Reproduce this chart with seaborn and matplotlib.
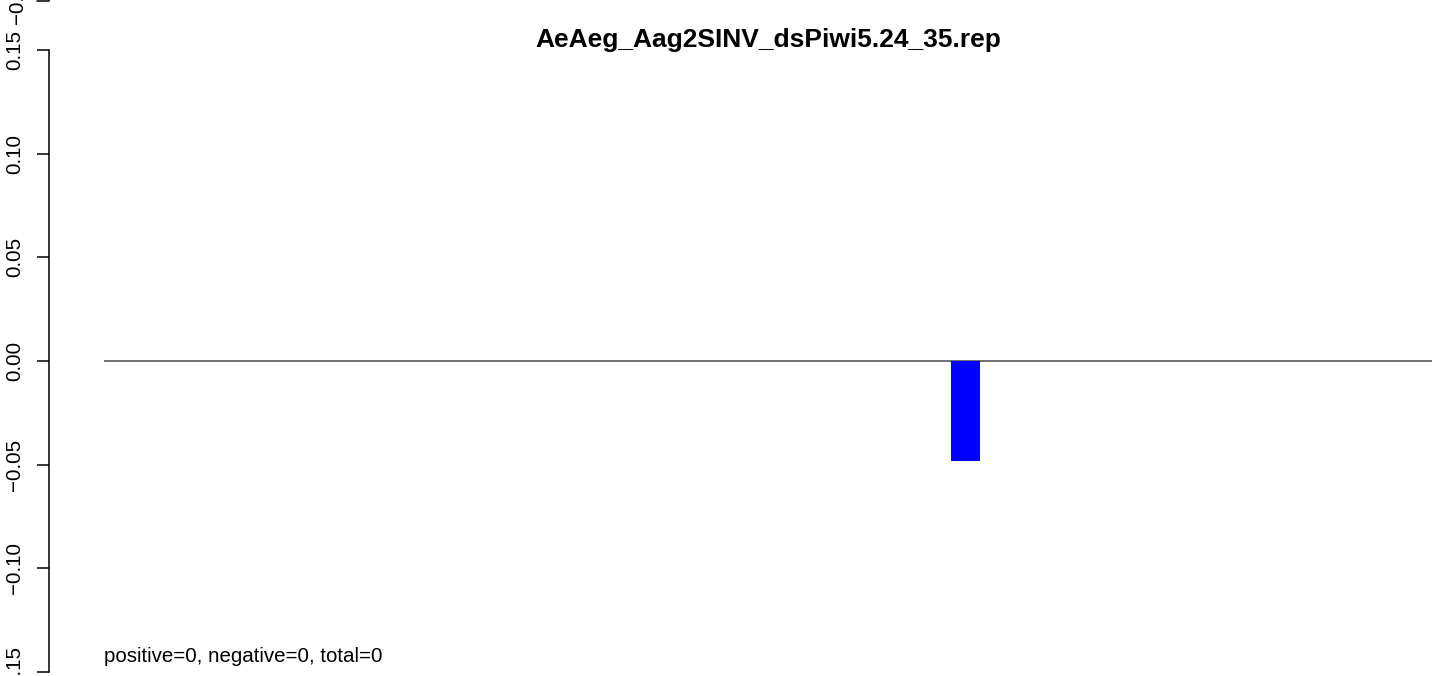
import matplotlib
matplotlib.use("Agg")
import matplotlib.pyplot as plt
import seaborn as sns
import pandas as pd
from matplotlib.lines import Line2D

# data: overlap positions and their signal (only one non-zero bar)
positions = list(range(1, 36))
values = [0.0] * 35
values[23] = -0.048
title = "AeAeg_Aag2SINV_dsPiwi5.24_35.rep"
note = "positive=0, negative=0, total=0"
yticks = [-0.15, -0.10, -0.05, 0.00, 0.05, 0.10, 0.15]

df = pd.DataFrame({"pos": positions, "val": values})

sns.set_style("white")
plt.rcParams["font.family"] = ["Liberation Sans", "DejaVu Sans"]
plt.rcParams["text.color"] = "black"

W, H = 1444, 676
fig = plt.figure(figsize=(W / 100, H / 100), dpi=100)
left, right, top, bottom = 104, 1432, 50, 672
ax = fig.add_axes([left / W, 1 - bottom / H, (right - left) / W, (bottom - top) / H])

sns.barplot(data=df, x="pos", y="val", native_scale=True, color="#0000ff",
            saturation=1, width=0.8, linewidth=0, ax=ax)
ax.axhline(0, color="#666666", lw=1.3, zorder=0)

# spine placement first: moving a spine resets the ticks
for s in ["top", "right", "bottom"]:
    ax.spines[s].set_visible(False)
ax.spines["left"].set_position(("axes", -55 / (right - left)))
ax.spines["left"].set_bounds(-0.15, 0.15)
ax.spines["left"].set_linewidth(1.1)
ax.spines["left"].set_color("black")

ax.set_xlim(0.23, 36.86)
ax.set_ylim(-0.15, 0.15)
ax.set_xlabel("")
ax.set_ylabel("")
ax.set_xticks([])
ax.set_yticks(yticks)
ax.set_yticklabels([f"{v:.2f}".replace("-", "\u2212") for v in yticks])
ax.tick_params(axis="y", length=9, width=1.1, pad=9, color="black", left=True,
               labelsize=14.8, labelrotation=90, labelcolor="black")
for lab in ax.get_yticklabels():
    lab.set_va("center")

fig.text(768 / W, 1 - 40 / H, title, ha="center", va="center",
         fontsize=19, fontweight="bold", color="black")
fig.text(left / W, 1 - 656 / H, note, ha="left", va="center", fontsize=14.8,
         color="black")

# fragment of the neighbouring panel's axis at the top edge
fig.text(18 / W, 1 + 2 / H, "\u22120.15", rotation=90, ha="center", va="center",
         fontsize=14.8, color="black")
fig.add_artist(Line2D([37 / W, 49 / W, 49 / W], [1 - 1 / H, 1 - 1 / H, 1.0],
                      transform=fig.transFigure, color="black", lw=1.1))

fig.savefig("out.png", dpi=100)
